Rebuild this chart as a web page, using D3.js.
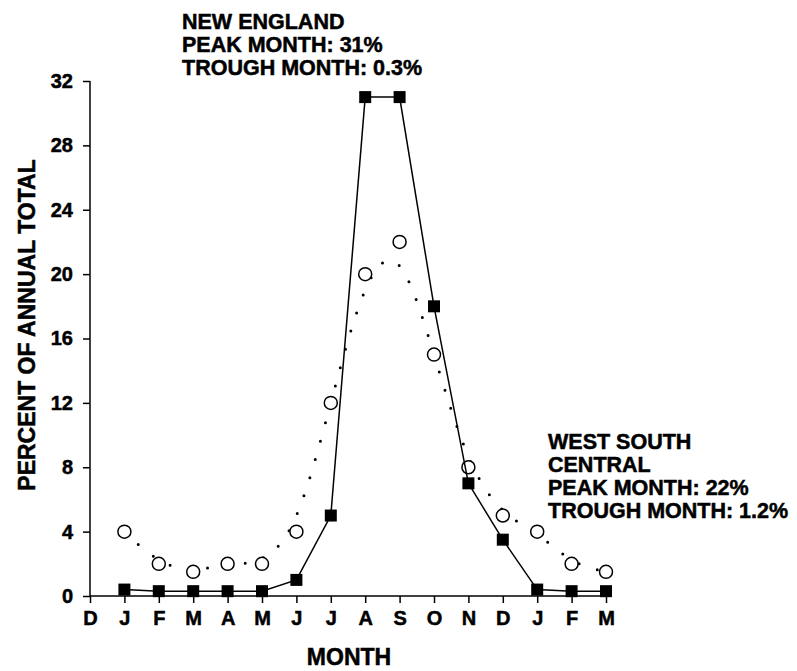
<!DOCTYPE html>
<html>
<head>
<meta charset="utf-8">
<script src="https://cdn.jsdelivr.net/npm/d3@7"></script>
<style>
  body { margin: 0; background: #fff; }
  text { font-family: "Liberation Sans", Arial, sans-serif; font-weight: bold; fill: #000; stroke: #000; stroke-width: 0.5px; }
</style>
</head>
<body>
<div id="chart"></div>
<script>
// month labels along the x axis (D of previous year through M of following year)
const months = ['D', 'J', 'F', 'M', 'A', 'M', 'J', 'J', 'A', 'S', 'O', 'N', 'D', 'J', 'F', 'M'];
const yTicks = [0, 4, 8, 12, 16, 20, 24, 28, 32];

// New England (filled squares, solid line), starts at index 1 (J)
const newEngland = [0.4, 0.3, 0.3, 0.3, 0.3, 1.0, 5, 31, 31, 18, 7, 3.5, 0.4, 0.3, 0.3];
// West South Central (open circles, dotted smoothed line)
const westSouthCentral = [4, 2, 1.5, 2, 2, 4, 12, 20, 22, 15, 8, 5, 4, 2, 1.5];

const width = 797, height = 671;
const margin = { top: 81, right: 191, bottom: 75, left: 90 };

const svg = d3.select('#chart').append('svg')
    .attr('width', width)
    .attr('height', height);

const x = d3.scalePoint()
    .domain(d3.range(months.length))
    .range([margin.left, width - margin.right]);

const y = d3.scaleLinear()
    .domain([0, 32])
    .range([height - margin.bottom, margin.top]);

// axes
const xAxis = svg.append('g')
    .attr('transform', `translate(0,${y(0)})`)
    .call(d3.axisBottom(x).tickSize(7).tickPadding(8).tickFormat(i => months[i]));

const yAxis = svg.append('g')
    .attr('transform', `translate(${margin.left},0)`)
    .call(d3.axisLeft(y).tickValues(yTicks).tickSize(7).tickPadding(10));

[xAxis, yAxis].forEach(a => {
    a.select('.domain').attr('stroke', '#000').attr('stroke-width', 1.5);
    a.selectAll('.tick line').attr('stroke', '#000').attr('stroke-width', 1.5);
    a.selectAll('.tick text')
        .style('font-family', '"Liberation Sans", Arial, sans-serif')
        .style('font-weight', 'bold')
        .style('font-size', '20px')
        .attr('fill', '#000');
});
// no outer tick beyond ends
xAxis.select('.domain').attr('d', `M${x(0)},0H${x(months.length - 1)}`);
yAxis.select('.domain').attr('d', `M0,${y(32)}V${y(0)}`);

// axis titles
svg.append('text')
    .attr('x', (x(0) + x(months.length - 1)) / 2 + 1)
    .attr('y', 665)
    .attr('text-anchor', 'middle')
    .style('font-size', '23px')
    .text('MONTH');

svg.append('text')
    .attr('transform', 'translate(35,325) rotate(-90)')
    .attr('text-anchor', 'middle')
    .style('font-size', '23px')
    .text('PERCENT OF ANNUAL TOTAL');

// West South Central dotted smooth curve
const wscPts = westSouthCentral.map((v, i) => [x(i + 1), y(v)]);
svg.append('path')
    .attr('d', d3.line().curve(d3.curveBasis)(wscPts))
    .attr('fill', 'none')
    .attr('stroke', '#000')
    .attr('stroke-width', 3)
    .attr('stroke-linecap', 'round')
    .attr('stroke-dasharray', '0,19');

svg.selectAll('.wsc')
    .data(westSouthCentral)
    .enter().append('circle')
    .attr('class', 'wsc')
    .attr('cx', (d, i) => x(i + 1))
    .attr('cy', d => y(d))
    .attr('r', 6.5)
    .attr('fill', '#fff')
    .attr('stroke', '#000')
    .attr('stroke-width', 1.5);

// New England solid line with squares
svg.append('path')
    .datum(newEngland)
    .attr('d', d3.line().x((d, i) => x(i + 1)).y(d => y(d)))
    .attr('fill', 'none')
    .attr('stroke', '#000')
    .attr('stroke-width', 1.5);

const sq = 12;
svg.selectAll('.ne')
    .data(newEngland)
    .enter().append('rect')
    .attr('class', 'ne')
    .attr('x', (d, i) => x(i + 1) - sq / 2)
    .attr('y', d => y(d) - sq / 2)
    .attr('width', sq)
    .attr('height', sq)
    .attr('fill', '#000');

// annotations
const noteNE = ['NEW ENGLAND', 'PEAK MONTH: 31%', 'TROUGH MONTH: 0.3%'];
const noteWSC = ['WEST SOUTH', 'CENTRAL', 'PEAK MONTH: 22%', 'TROUGH MONTH: 1.2%'];

svg.append('g').selectAll('text')
    .data(noteNE)
    .enter().append('text')
    .attr('x', 182)
    .attr('y', (d, i) => 29 + i * 23)
    .style('font-size', '21.5px')
    .text(d => d);

svg.append('g').selectAll('text')
    .data(noteWSC)
    .enter().append('text')
    .attr('x', 548)
    .attr('y', (d, i) => 449 + i * 23)
    .style('font-size', '21.5px')
    .text(d => d);
</script>
</body>
</html>
